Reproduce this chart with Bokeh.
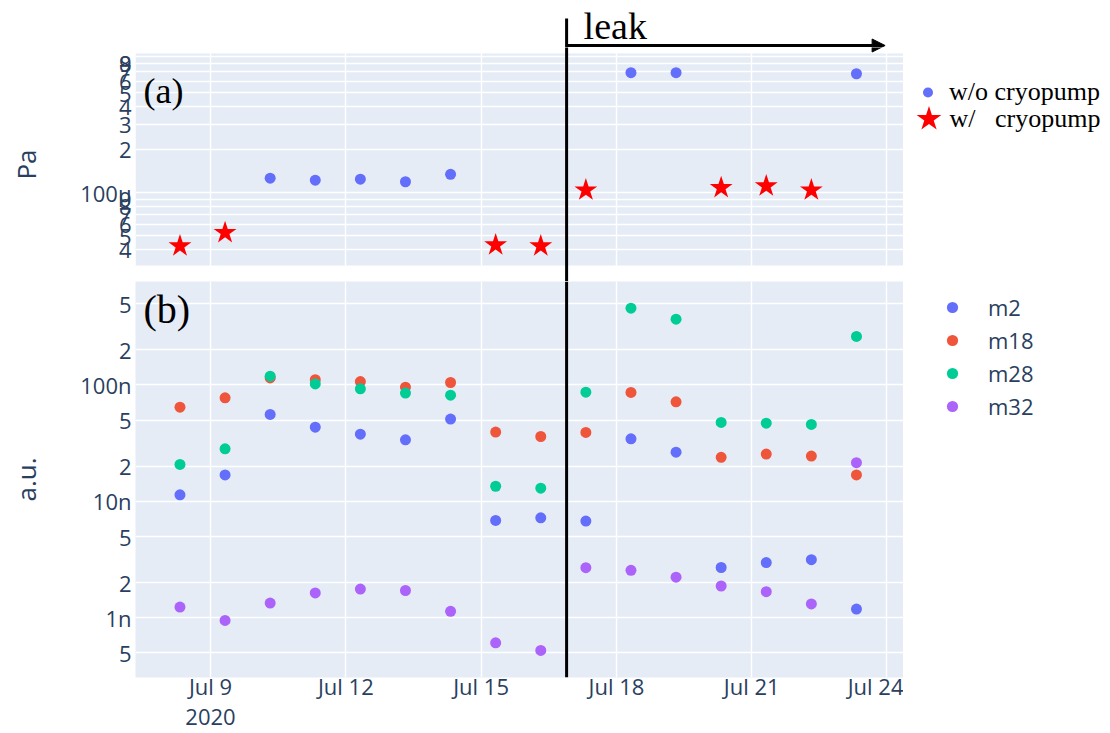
import numpy as np
import pandas as pd
from bokeh.plotting import figure
from bokeh.models import (Range1d, FixedTicker, Legend, LegendItem, Arrow,
                          NormalHead, Label, ColumnDataSource, BoxAnnotation, Span)
from bokeh.layouts import column, row
from bokeh.embed import file_html
from bokeh.resources import INLINE

# ---------------- data ----------------
days = ["2020-07-08", "2020-07-09", "2020-07-10", "2020-07-11", "2020-07-12",
        "2020-07-13", "2020-07-14", "2020-07-15", "2020-07-16", "2020-07-17",
        "2020-07-18", "2020-07-19", "2020-07-20", "2020-07-21", "2020-07-22",
        "2020-07-23"]
measure_clock = "07:45"

# (a) pressure in micro-pascal, and whether the cryopump was running
pressure_uPa = [42.3, 52.4, 126, 122, 124, 119, 134, 43.0, 42.3, 104,
                689, 689, 108, 111, 104, 677]
cryopump_on = [True, True, False, False, False, False, False, True, True, True,
               False, False, True, True, True, False]

# (b) signals in nano a.u.
m2_n = [11.4, 16.9, 55.8, 43.4, 37.8, 33.8, 50.9, 6.87, 7.24, 6.78,
        34.5, 26.5, 2.71, 2.99, 3.16, 1.19]
m18_n = [64.5, 77.6, 115, 111, 107, 95.7, 105, 39.4, 36.1, 39.1,
         86.3, 71.7, 23.9, 25.5, 24.5, 16.9]
m28_n = [20.8, 28.3, 119, 102, 92.7, 85.1, 81.7, 13.5, 13.0, 86.7,
         456, 367, 47.7, 47.0, 45.8, 261]
m32_n = [1.24, 0.952, 1.34, 1.64, 1.77, 1.72, 1.14, 0.612, 0.526, 2.70,
         2.56, 2.24, 1.88, 1.68, 1.32, 21.5]

series_names = ["m2", "m18", "m28", "m32"]
series_colors = ["#636EFA", "#EF553B", "#00CC96", "#AB63FA"]

leak_start = "2020-07-16 21:30"
leak_arrow_end = "2020-07-23 23:00"

x_tick_dates = ["2020-07-09", "2020-07-12", "2020-07-15", "2020-07-18",
                "2020-07-21", "2020-07-24"]
x_tick_labels = ["Jul 9\n2020", "Jul 12", "Jul 15", "Jul 18", "Jul 21", "Jul 24"]

top_ticks = [4e-5, 5e-5, 6e-5, 7e-5, 8e-5, 9e-5, 1e-4,
             2e-4, 3e-4, 4e-4, 5e-4, 6e-4, 7e-4, 8e-4, 9e-4]
top_tick_labels = ["4", "5", "6", "7", "8", "9", "100\u00b5",
                   "2", "3", "4", "5", "6", "7", "8", "9"]

bot_ticks = [5e-10, 1e-9, 2e-9, 5e-9, 1e-8, 2e-8, 5e-8, 1e-7, 2e-7, 5e-7]
bot_tick_labels = ["5", "1n", "2", "5", "10n", "2", "5", "100n", "2", "5"]

x_start, x_end = "2020-07-07 08:05", "2020-07-24 08:47"
top_lo, top_hi = 30.9e-6, 938e-6
bot_lo, bot_hi = 0.308e-9, 773e-9

# ---------------- layout constants (page pixels) ----------------
LEFT = 135          # frame left
MAIN_W = 903        # width of the main column (frame right edge)
LEG_W = 207
STRIP_H = 47        # strip above panel (a) holding the leak marker
TOP_END = 281       # page y where the top figure ends
BOT_H = 452
TOP_PANEL = (53, 265)   # page y of panel (a)
BOT_PANEL = (281, 677)  # page y of panel (b)
BOT_BORDER = BOT_H - (BOT_PANEL[1] - BOT_PANEL[0])

TXT = "#2a3f5f"
BG = "#E5ECF6"
FONT = "Open Sans"
SERIF = "Liberation Serif"


def ms(s):
    return pd.Timestamp(s).value / 1e6


def page_y(y, panel=TOP_PANEL, lo=top_lo, hi=top_hi):
    t, b = panel
    frac = (b - y) / (b - t)
    return 10 ** (np.log10(lo) + frac * (np.log10(hi) - np.log10(lo)))


times = pd.to_datetime([d + " " + measure_clock for d in days])
x_range = Range1d(start=ms(x_start), end=ms(x_end))
tick_ms = [ms(d) for d in x_tick_dates]


def style(p, yticks, ylabels, ytitle):
    p.yaxis.ticker = FixedTicker(ticks=yticks)
    p.ygrid.ticker = FixedTicker(ticks=yticks)
    p.yaxis.major_label_overrides = {t: l for t, l in zip(yticks, ylabels)}
    p.xgrid.ticker = FixedTicker(ticks=tick_ms)
    for g in (p.xgrid, p.ygrid):
        g.grid_line_color = "white"
        g.grid_line_width = 1.5
    for ax in list(p.xaxis) + list(p.yaxis):
        ax.axis_line_color = None
        ax.major_tick_line_color = None
        ax.minor_tick_line_color = None
        ax.major_tick_out = 0
        ax.major_tick_in = 0
        ax.major_label_text_font = FONT
        ax.major_label_text_font_size = "22px"
        ax.major_label_text_color = TXT
    p.yaxis.major_label_standoff = 4
    p.yaxis.axis_label = ytitle
    p.yaxis.axis_label_text_font = FONT
    p.yaxis.axis_label_text_font_size = "26px"
    p.yaxis.axis_label_text_font_style = "normal"
    p.yaxis.axis_label_text_color = TXT
    p.yaxis.axis_label_standoff = 33


def bare_fig(w, h, xr, yr, left=0, bottom_border=0, y_log=False):
    f = figure(width=w, height=h, x_range=xr, y_range=yr,
               y_axis_type="log" if y_log else "linear",
               x_axis_location=None, y_axis_location=None,
               output_backend="svg", toolbar_location=None,
               min_border=0, min_border_left=left, min_border_right=0,
               min_border_top=0, min_border_bottom=bottom_border,
               background_fill_color="white", border_fill_color="white",
               outline_line_color=None)
    f.xgrid.visible = False
    f.ygrid.visible = False
    return f


def leak_marker(f):
    """vertical leak line and the arrow pointing forward in time"""
    f.add_layout(Arrow(end=None, x_start=ms(leak_start), x_end=ms(leak_start),
                       y_start=page_y(18), y_end=page_y(300),
                       line_color="black", line_width=3))
    f.add_layout(Arrow(end=NormalHead(size=13, fill_color="black", line_color="black"),
                       x_start=ms(leak_start), x_end=ms(leak_arrow_end),
                       y_start=page_y(45), y_end=page_y(45),
                       line_color="black", line_width=3))


# ---------------- strip above (a) ----------------
strip = bare_fig(MAIN_W, STRIP_H, x_range, Range1d(page_y(STRIP_H), page_y(0)),
                 left=LEFT, y_log=True)
strip.add_layout(Label(x=ms(leak_start), y=page_y(25), x_offset=17, text="leak",
                       text_font=SERIF, text_font_size="38px", text_color="black",
                       text_baseline="alphabetic"))
leak_marker(strip)

# ---------------- top panel (a) ----------------
top = figure(width=MAIN_W, height=TOP_END - STRIP_H, x_axis_type="datetime",
             y_axis_type="log", x_range=x_range,
             y_range=Range1d(page_y(TOP_END), page_y(STRIP_H)),
             x_axis_location=None,
             output_backend="svg", toolbar_location=None,
             min_border_left=LEFT, min_border_right=0,
             min_border_top=0, min_border_bottom=0,
             background_fill_color="white", border_fill_color="white",
             outline_line_color=None)
top.add_layout(BoxAnnotation(left=ms(x_start), right=ms(x_end),
                             bottom=top_lo, top=top_hi, fill_color=BG,
                             fill_alpha=1, line_color=None, level="image"))
style(top, top_ticks, top_tick_labels, "Pa")

p_arr = np.array(pressure_uPa) * 1e-6
on = np.array(cryopump_on)
src_wo = ColumnDataSource(dict(x=times[~on], y=p_arr[~on]))
src_w = ColumnDataSource(dict(x=times[on], y=p_arr[on]))
top.scatter("x", "y", source=src_wo, marker="circle", size=11,
            fill_color="#636EFA", line_color=None)
top.scatter("x", "y", source=src_w, marker="star", size=24,
            fill_color="#FF0000", line_color=None)

top.add_layout(Label(x=ms(x_start), y=page_y(90), x_offset=8, text="(a)",
                     text_font=SERIF, text_font_size="36px", text_color="black",
                     text_baseline="alphabetic"))
leak_marker(top)

# legend for (a): the keys reuse the data sources (off-screen in this small figure)
top_leg = bare_fig(LEG_W, TOP_END - STRIP_H, (0, 1), (0, 1))
k_wo = top_leg.scatter("x", "y", source=src_wo, marker="circle", size=10,
                       fill_color="#636EFA", line_color=None)
k_w = top_leg.scatter("x", "y", source=src_w, marker="star", size=26,
                      fill_color="#FF0000", line_color=None)
leg_kw = dict(padding=0, margin=0, spacing=0, label_text_font=SERIF,
              label_text_font_size="26px", label_text_color="black",
              border_line_color=None, background_fill_alpha=0)
top_leg.add_layout(Legend(items=[LegendItem(label="w/o cryopump", renderers=[k_wo])],
                          location=(12, TOP_END - 107), glyph_width=25, glyph_height=30,
                          label_standoff=9, **leg_kw))
top_leg.add_layout(Legend(items=[LegendItem(label="", renderers=[k_w])],
                          location=(-7, TOP_END - 151), glyph_width=65, glyph_height=65,
                          label_standoff=0, **leg_kw))
top_leg.add_layout(Label(x=46, y=TOP_END - 118, x_units="screen", y_units="screen",
                         text="w/\u00a0\u00a0\u00a0cryopump", text_font=SERIF,
                         text_font_size="26px", text_color="black",
                         text_baseline="middle"))

# ---------------- bottom panel (b) ----------------
bot = figure(width=MAIN_W, height=BOT_H, x_axis_type="datetime", y_axis_type="log",
             x_range=x_range, y_range=Range1d(bot_lo, bot_hi),
             output_backend="svg", toolbar_location=None,
             min_border_left=LEFT, min_border_right=0,
             min_border_top=0, min_border_bottom=BOT_BORDER,
             background_fill_color=BG, border_fill_color="white",
             outline_line_color=None)
style(bot, bot_ticks, bot_tick_labels, "a.u.")
bot.xaxis.ticker = FixedTicker(ticks=tick_ms)
bot.xaxis.major_label_overrides = {t: l for t, l in zip(tick_ms, x_tick_labels)}
bot.xaxis.major_label_standoff = -7
bot.xaxis.major_label_text_line_height = 1.0

bot_leg = bare_fig(LEG_W, BOT_H, (0, 1), (0, 1), bottom_border=BOT_BORDER)
items = []
for name, vals, col in zip(series_names, [m2_n, m18_n, m28_n, m32_n], series_colors):
    src = ColumnDataSource(dict(x=times, y=np.array(vals) * 1e-9))
    bot.scatter("x", "y", source=src, marker="circle", size=11,
                fill_color=col, line_color=None)
    key = bot_leg.scatter("x", "y", source=src, marker="circle", size=11,
                          fill_color=col, line_color=None)
    items.append(LegendItem(label=name, renderers=[key]))

bot_leg.add_layout(Legend(items=items, location=(35, 256), glyph_width=28,
                          glyph_height=28, label_standoff=22, padding=0, margin=0,
                          spacing=3, label_text_font=FONT, label_text_font_size="22px",
                          label_text_color=TXT, border_line_color=None,
                          background_fill_alpha=0))

bot.add_layout(Label(x=ms(x_start), y=page_y(309, BOT_PANEL, bot_lo, bot_hi),
                     x_offset=8, text="(b)", text_font=SERIF,
                     text_font_size="40px", text_color="black",
                     text_baseline="alphabetic"))
bot.add_layout(Span(location=ms(leak_start), dimension="height",
                    line_color="black", line_width=3))

layout = column(strip, row(top, top_leg, spacing=0), row(bot, bot_leg, spacing=0),
                spacing=0)
open("out.html", "w").write(file_html(layout, INLINE))
